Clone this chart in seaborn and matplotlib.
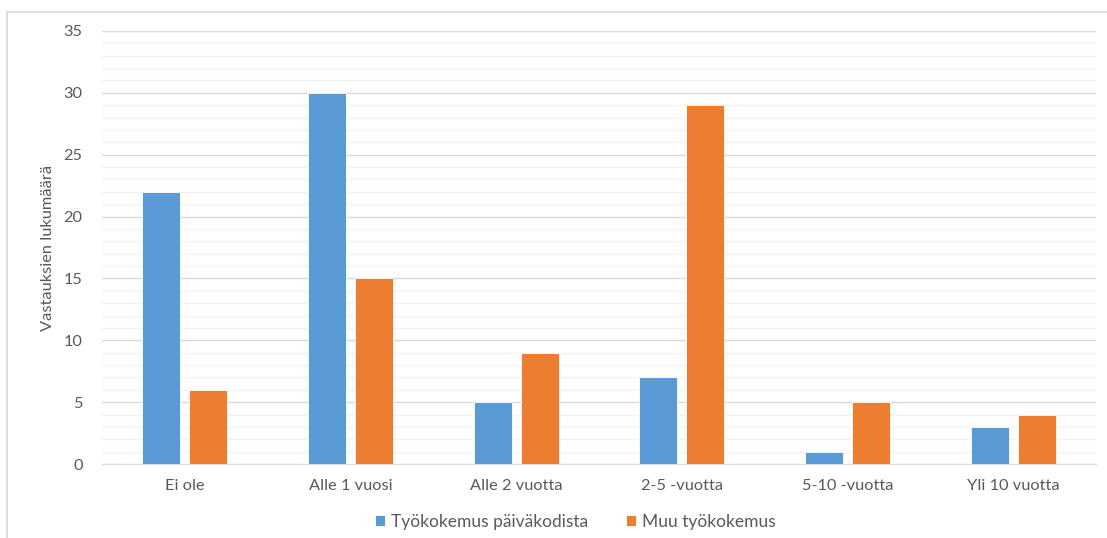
import pandas as pd
import matplotlib.pyplot as plt
import seaborn as sns
from matplotlib.ticker import MultipleLocator, FixedLocator
from matplotlib.lines import Line2D

# Data
categories = ['Ei ole', 'Alle 1 vuosi', 'Alle 2 vuotta', '2-5 -vuotta', '5-10 -vuotta', 'Yli 10 vuotta']
paivakoti = [22, 30, 5, 7, 1, 3]
muu = [6, 15, 9, 29, 5, 4]
series_names = ['Työkokemus päiväkodista', 'Muu työkokemus']

df = pd.DataFrame({'Kategoria': categories,
                   series_names[0]: paivakoti,
                   series_names[1]: muu})
df = df.melt(id_vars='Kategoria', var_name='Sarja', value_name='Määrä')

sns.set_style('white')
plt.rcParams['font.family'] = ['Lato', 'DejaVu Sans']

fig = plt.figure(figsize=(11.07, 5.38), dpi=100)
ax = fig.add_axes([102 / 1107, 1 - 464 / 538, (1096 - 102) / 1107, (464 - 31) / 538])

sns.barplot(data=df, x='Kategoria', y='Määrä', hue='Sarja', order=categories,
            hue_order=series_names, palette=['#5B9BD5', '#ED7D31'], saturation=1,
            width=0.567, gap=0.19, edgecolor='white', linewidth=0.6,
            errorbar=None, ax=ax, zorder=3)

ax.set_xlim(-0.5, 5.5)
ax.set_ylim(0, 35)
ax.yaxis.set_major_locator(MultipleLocator(5))
ax.yaxis.set_minor_locator(MultipleLocator(1))
ax.grid(which='major', axis='y', color='#D9D9D9', linewidth=1.0, zorder=0)
ax.grid(which='minor', axis='y', color='#F2F2F2', linewidth=1.0, zorder=0)
ax.set_axisbelow(True)

ax.xaxis.set_minor_locator(FixedLocator([i - 0.5 for i in range(7)]))
ax.tick_params(axis='x', which='major', length=0, pad=11, labelsize=11.8, labelcolor='#595959')
ax.tick_params(axis='x', which='minor', length=6, color='#D9D9D9', width=1)
ax.tick_params(axis='y', which='both', length=0, pad=14, labelsize=11.8, labelcolor='#595959')

for s in ['top', 'right', 'left']:
    ax.spines[s].set_visible(False)
ax.spines['bottom'].set_color('#D9D9D9')

ax.set_xlabel('')
ax.set_ylabel('Vastauksien lukumäärä', fontsize=11.8, color='#595959', labelpad=6)

handles, labels = ax.get_legend_handles_labels()
ax.legend(handles, labels, loc='center', bbox_to_anchor=(0.476, -0.133), ncol=2, frameon=False,
          fontsize=12.5, labelcolor='#595959', handlelength=0.6, handleheight=0.6,
          handletextpad=0.3, columnspacing=2.2)

# chart border (left and top edges visible)
fig.add_artist(Line2D([7 / 1107, 7 / 1107], [0, 1 - 12 / 538], color='#D9D9D9', linewidth=1.2))
fig.add_artist(Line2D([7 / 1107, 1], [1 - 12 / 538, 1 - 12 / 538], color='#D9D9D9', linewidth=1.2))

fig.savefig('out.png', dpi=100)
